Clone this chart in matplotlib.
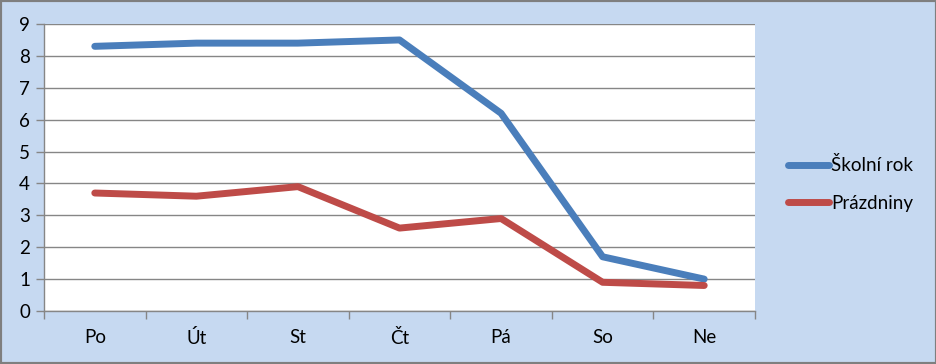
import matplotlib
matplotlib.use("Agg")
import matplotlib.pyplot as plt
from matplotlib.patches import Rectangle

categories = ["Po", "Út", "St", "Čt", "Pá", "So", "Ne"]
skolni_rok = [8.3, 8.4, 8.4, 8.5, 6.2, 1.7, 1.0]
prazdniny = [3.7, 3.6, 3.9, 2.6, 2.9, 0.9, 0.8]
series_names = ["Školní rok", "Prázdniny"]

plt.rcParams['font.family'] = ['Lato', 'DejaVu Sans']

bg = '#C6D9F1'
blue = '#4A7EBB'
red = '#BE4B48'
grid_c = '#868686'

fig = plt.figure(figsize=(9.37, 3.64), dpi=100)
fig.patch.set_facecolor(bg)
fig.patches.append(Rectangle((0, 0), 1, 1, transform=fig.transFigure,
                             fill=False, edgecolor='#7F7F7F', linewidth=3, zorder=10))

ax = fig.add_axes([44/937, 53/364, (755-44)/937, (311-24)/364])
ax.set_facecolor('white')
x = list(range(len(categories)))
l1, = ax.plot(x, skolni_rok, color=blue, lw=5, solid_capstyle='round', solid_joinstyle='round', zorder=3)
l2, = ax.plot(x, prazdniny, color=red, lw=5, solid_capstyle='round', solid_joinstyle='round', zorder=3)

ax.set_xlim(-0.5, len(categories) - 0.5)
ax.set_ylim(0, 9)
ax.set_yticks(range(0, 10))
ax.set_xticks(x)
ax.set_xticklabels(categories)
ax.set_xticks([i - 0.5 for i in range(len(categories) + 1)], minor=True)
ax.tick_params(axis='x', which='major', length=0, pad=13, labelsize=13.5, colors='black')
ax.tick_params(axis='x', which='minor', length=6, color=grid_c, width=1)
ax.tick_params(axis='y', which='major', length=6, color=grid_c, width=1, labelsize=13.5, pad=4)
ax.yaxis.grid(True, color=grid_c, lw=1)
ax.set_axisbelow(True)
for s in ['top', 'right']:
    ax.spines[s].set_visible(False)
for s in ['left', 'bottom']:
    ax.spines[s].set_color(grid_c)
    ax.spines[s].set_linewidth(1)

leg = fig.legend([l1, l2], series_names, loc='center left',
                 bbox_to_anchor=(771/937, 180/364), frameon=False,
                 fontsize=13.5, handlelength=2.2, handletextpad=0.1,
                 labelspacing=1.1)

fig.savefig('out.png', dpi=100, facecolor=bg)
